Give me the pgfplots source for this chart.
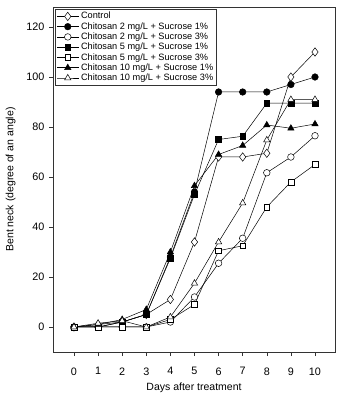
\documentclass[border=0pt]{standalone}
\usepackage{pgfplots}
\pgfplotsset{compat=1.18}
\usepackage{fontspec}
\setmainfont{Liberation Sans}

\begin{document}
\begin{tikzpicture}
\begin{axis}[
  name=ax,
  scale only axis,
  width=282pt, height=345pt,
  xmin=-0.87, xmax=10.83,
  ymin=-10, ymax=128,
  xtick={0,1,...,10},
  ytick={0,20,...,120},
  tick pos=left,
  tick align=outside,
  major tick length=4pt,
  axis line style={line width=0.5pt, black!80},
  tick style={line width=0.5pt, black!80},
  /pgf/number format/assume math mode=true,
  ticklabel style={font=\fontsize{10.8}{12}\selectfont},
  xticklabel style={yshift=-8pt},
  yticklabel style={xshift=-1pt},
  xlabel={Days after treatment},
  ylabel={Bent neck (degree of an angle)},
  label style={font=\fontsize{10.5}{12}\selectfont},
  xlabel style={yshift=-1pt},
  ylabel style={yshift=4pt},
  legend style={at={(0.008,0.994)}, anchor=north west,
    font=\fontsize{9.2}{10}\selectfont, draw=black!80, line width=0.5pt,
    inner sep=1pt, row sep=-1.9pt, cells={anchor=west}},
  legend image code/.code={
    \draw[mark repeat=2, mark phase=2] plot coordinates {(0pt,0pt) (11pt,0pt) (22pt,0pt)};},
  legend cell align=left,
  every axis plot/.append style={black, line width=0.5pt},
]
% Control
\addplot[mark=diamond*, mark size=4.2pt, mark options={fill=white, solid}]
  coordinates {(0,0) (1,1) (2,2) (3,5) (4,11) (5,34) (6,68) (7,68) (8,69.5) (9,100) (10,110)};
\addlegendentry{Control}
% Chitosan 2 mg/L + Sucrose 1%
\addplot[mark=*, mark size=3.3pt, mark options={fill=black, solid}]
  coordinates {(0,0) (1,0) (2,2) (3,5) (4,28) (5,54) (6,94) (7,94) (8,94) (9,97) (10,100)};
\addlegendentry{Chitosan 2 mg/L + Sucrose 1\%}
% Chitosan 2 mg/L + Sucrose 3%
\addplot[mark=*, mark size=3.3pt, mark options={fill=white, solid}]
  coordinates {(0,0) (1,0) (2,0) (3,0) (4,2) (5,12) (6,25.5) (7,35.5) (8,61.7) (9,68) (10,76.5)};
\addlegendentry{Chitosan 2 mg/L + Sucrose 3\%}
% Chitosan 5 mg/L + Sucrose 1%
\addplot[mark=square*, mark size=2.9pt, mark options={fill=black, solid}]
  coordinates {(0,0) (1,0) (2,2) (3,5) (4,27.5) (5,53) (6,75) (7,76.3) (8,89.5) (9,89.5) (10,89.5)};
\addlegendentry{Chitosan 5 mg/L + Sucrose 1\%}
% Chitosan 5 mg/L + Sucrose 3%
\addplot[mark=square*, mark size=2.9pt, mark options={fill=white, solid}]
  coordinates {(0,0) (1,0) (2,0) (3,0) (4,3) (5,9) (6,30.5) (7,32.5) (8,48) (9,58) (10,65)};
\addlegendentry{Chitosan 5 mg/L + Sucrose 3\%}
% Chitosan 10 mg/L + Sucrose 1%
\addplot[mark=triangle*, mark size=3.6pt, mark options={fill=black, solid}]
  coordinates {(0,0) (1,1) (2,3) (3,7) (4,30) (5,56.5) (6,69) (7,72.6) (8,80.8) (9,79.5) (10,81.2)};
\addlegendentry{Chitosan 10 mg/L + Sucrose 1\%}
% Chitosan 10 mg/L + Sucrose 3%
\addplot[mark=triangle*, mark size=3.6pt, mark options={fill=white, solid}]
  coordinates {(0,0) (1,1.5) (2,2.5) (3,0) (4,4) (5,17.5) (6,34) (7,49.6) (8,74.8) (9,91) (10,91)};
\addlegendentry{Chitosan 10 mg/L + Sucrose 3\%}
\end{axis}
\pgfresetboundingbox
\path (ax.south west) ++(-53pt,-43pt) coordinate (bl);
\path (ax.north east) ++(5pt,7pt) coordinate (tr);
\path[use as bounding box] (bl) rectangle (tr);
\end{tikzpicture}
\end{document}
